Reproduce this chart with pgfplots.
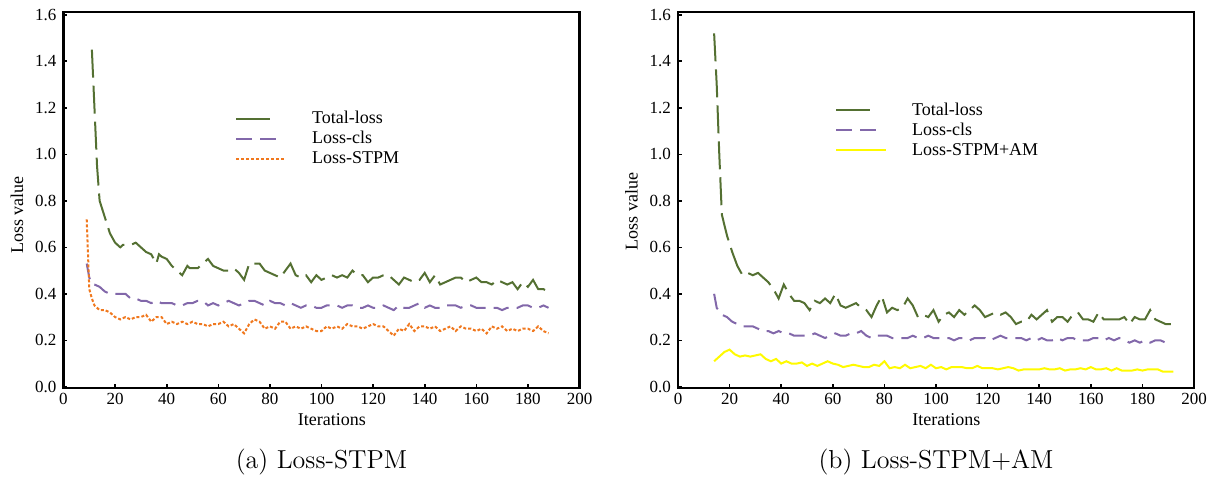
\documentclass[border=0pt]{standalone}
\usepackage{fontspec}
\usepackage{pgfplots}
\pgfplotsset{compat=1.18}
\newfontfamily\tms{Liberation Serif}
\definecolor{lossGreen}{RGB}{84,112,50}
\definecolor{lossPurple}{RGB}{130,104,170}
\definecolor{lossOrange}{RGB}{240,120,30}
\definecolor{lossYellow}{RGB}{255,250,0}

\pgfplotsset{
  lossaxis/.style={
    scale only axis, width=258pt, height=188pt,
    xmin=0, xmax=200, ymin=-0.005, ymax=1.612,
    xtick={0,20,...,200}, ytick={0,0.2,...,1.6},
    tick align=inside, xtick pos=bottom, ytick pos=left,
    major tick length=2pt,
    axis line style={line width=1.1pt},
    every tick/.style={black, line width=0.8pt},
    tick label style={font=\tms\fontsize{8.5}{10}\selectfont},
    /pgf/number format/assume math mode=true,
    yticklabel style={/pgf/number format/.cd, fixed, fixed zerofill, precision=1},
    xticklabel style={yshift=1pt},
    xlabel={Iterations}, ylabel={Loss value},
    label style={font=\tms\fontsize{9}{10}\selectfont},
    xlabel style={at={(axis description cs:0.52,-0.085)}, anchor=center},
    ylabel style={at={(axis description cs:-0.09,0.46)}, anchor=center},
    legend cell align=left,
    legend style={draw=none, fill=none, font=\tms\fontsize{9}{10}\selectfont,
      row sep=0pt, column sep=12pt,
      nodes={inner sep=0.5pt, text height=7pt, text depth=2pt}},
  },
  totalstyle/.style={lossGreen, line width=1pt, dash pattern=on 14pt off 4pt},
  clsstyle/.style={lossPurple, line width=1pt, dash pattern=on 8pt off 4pt},
  stpmstyle/.style={lossOrange, line width=1pt, dash pattern=on 1.5pt off 1pt},
  amstyle/.style={lossYellow, line width=1pt},
  limgA/.style={legend image code/.code={\draw[##1, solid] (0pt,0pt) -- (17pt,0pt);}},
  limgB/.style={legend image code/.code={\draw[##1] (0pt,0pt) -- (20.5pt,0pt);}},
  limgC/.style={legend image code/.code={\draw[##1] (0pt,0pt) -- (25pt,0pt);}},
}

\begin{document}
\begin{tikzpicture}
\useasboundingbox (-31.75pt,-44.5pt) rectangle (575.75pt,194pt);

% (a) Loss-STPM
\begin{axis}[lossaxis, name=ax1, at={(0pt,0pt)}, anchor=south west,
  legend style={at={(axis description cs:0.32,0.755)}, anchor=north west}]
\addplot[totalstyle, limgA] coordinates {
(11,1.45)(12,1.20)(13,0.95)(14,0.80)(16,0.73)(18,0.66)(20,0.62)(22,0.60)(23,0.61)(24,0.61)
(26,0.61)(28,0.62)(30,0.60)(32,0.58)(34,0.57)(36,0.53)(37,0.57)(38,0.56)(40,0.55)(42,0.52)
(44,0.50)(46,0.48)(48,0.52)(49,0.51)(50,0.51)(52,0.51)(54,0.53)(56,0.55)(58,0.52)(60,0.51)
(62,0.50)(64,0.50)(66,0.51)(68,0.49)(70,0.46)(72,0.53)(74,0.53)(76,0.53)(78,0.50)(80,0.49)
(82,0.48)(84,0.47)(86,0.50)(88,0.53)(90,0.48)(92,0.47)(94,0.48)(96,0.45)(98,0.48)(100,0.46)
(102,0.47)(104,0.48)(106,0.47)(108,0.48)(110,0.47)(112,0.50)(114,0.48)(116,0.48)(118,0.45)(120,0.47)
(122,0.47)(124,0.48)(126,0.48)(128,0.46)(130,0.44)(132,0.47)(134,0.46)(136,0.45)(138,0.46)(140,0.49)
(142,0.45)(144,0.48)(146,0.44)(148,0.45)(150,0.46)(152,0.47)(154,0.47)(156,0.45)(158,0.46)(160,0.47)
(162,0.45)(164,0.45)(166,0.44)(168,0.46)(170,0.45)(172,0.44)(174,0.45)(176,0.42)(178,0.45)(180,0.43)
(182,0.46)(184,0.42)(186,0.42)(188,0.41)
};
\addlegendentry{Total-loss}
\addplot[clsstyle, limgB] coordinates {
(9,0.53)(10,0.47)(11,0.44)(12,0.44)(14,0.43)(16,0.41)(18,0.40)(20,0.40)(22,0.40)(24,0.40)
(26,0.38)(28,0.38)(30,0.37)(32,0.37)(34,0.36)(36,0.37)(38,0.36)(40,0.36)(42,0.36)(44,0.35)
(46,0.35)(48,0.36)(50,0.36)(52,0.37)(54,0.37)(56,0.35)(58,0.36)(60,0.35)(62,0.36)(64,0.37)
(66,0.36)(68,0.35)(70,0.36)(72,0.37)(74,0.37)(76,0.36)(78,0.35)(80,0.37)(82,0.36)(84,0.36)
(86,0.35)(88,0.36)(90,0.35)(92,0.34)(94,0.35)(96,0.35)(98,0.34)(100,0.34)(102,0.35)(104,0.35)
(106,0.35)(108,0.34)(110,0.35)(112,0.35)(114,0.34)(116,0.34)(118,0.35)(120,0.34)(122,0.34)(124,0.35)
(126,0.34)(128,0.33)(130,0.35)(132,0.34)(134,0.34)(136,0.35)(138,0.36)(140,0.34)(142,0.35)(144,0.34)
(146,0.34)(148,0.35)(150,0.35)(152,0.35)(154,0.34)(156,0.35)(158,0.35)(160,0.34)(162,0.34)(164,0.34)
(166,0.34)(168,0.34)(170,0.33)(172,0.34)(174,0.34)(176,0.34)(178,0.35)(180,0.35)(182,0.34)(184,0.34)
(186,0.35)(188,0.34)
};
\addlegendentry{Loss-cls}
\addplot[stpmstyle, limgC] coordinates {
(9,0.72)(10,0.42)(11,0.38)(12,0.35)(14,0.33)(16,0.33)(18,0.32)(20,0.30)(22,0.29)(24,0.30)
(26,0.29)(28,0.30)(30,0.30)(32,0.31)(34,0.28)(36,0.30)(38,0.30)(40,0.27)(42,0.28)(44,0.27)
(46,0.28)(48,0.27)(50,0.28)(52,0.27)(54,0.27)(56,0.26)(58,0.27)(60,0.27)(62,0.28)(64,0.26)
(66,0.27)(68,0.25)(70,0.23)(72,0.27)(74,0.29)(76,0.28)(78,0.25)(80,0.26)(82,0.25)(84,0.28)
(86,0.28)(88,0.25)(90,0.26)(92,0.25)(94,0.26)(96,0.25)(98,0.24)(100,0.24)(102,0.26)(104,0.25)
(106,0.26)(108,0.25)(110,0.27)(112,0.26)(114,0.26)(116,0.25)(118,0.26)(120,0.27)(122,0.26)(124,0.26)
(126,0.24)(128,0.22)(130,0.25)(132,0.24)(134,0.27)(136,0.24)(138,0.26)(140,0.26)(142,0.25)(144,0.26)
(146,0.24)(148,0.25)(150,0.26)(152,0.24)(154,0.26)(156,0.25)(158,0.25)(160,0.24)(162,0.25)(164,0.23)
(166,0.26)(168,0.25)(170,0.26)(172,0.24)(174,0.25)(176,0.24)(178,0.25)(180,0.25)(182,0.24)(184,0.26)
(186,0.24)(188,0.23)
};
\addlegendentry{Loss-STPM}
\end{axis}

% (b) Loss-STPM+AM
\begin{axis}[lossaxis, name=ax2, at={(307.25pt,0pt)}, anchor=south west,
  ylabel style={at={(axis description cs:-0.09,0.47)}},
  legend style={at={(axis description cs:0.292,0.777)}, anchor=north west}]
\addplot[totalstyle, limgA] coordinates {
(14,1.52)(15,1.30)(16,1.00)(17,0.74)(19,0.65)(21,0.58)(23,0.52)(25,0.48)(27,0.49)(29,0.48)
(31,0.49)(33,0.47)(35,0.45)(37,0.42)(39,0.38)(41,0.44)(43,0.40)(45,0.37)(47,0.37)(49,0.36)
(51,0.33)(53,0.37)(55,0.36)(57,0.38)(59,0.36)(61,0.40)(63,0.35)(65,0.34)(67,0.35)(69,0.36)
(71,0.34)(73,0.33)(75,0.30)(77,0.35)(79,0.39)(81,0.32)(83,0.34)(85,0.33)(87,0.34)(89,0.38)
(91,0.35)(93,0.30)(95,0.31)(97,0.30)(99,0.33)(101,0.28)(103,0.31)(105,0.32)(107,0.30)(109,0.33)
(111,0.31)(113,0.33)(115,0.35)(117,0.33)(119,0.30)(121,0.31)(123,0.32)(125,0.31)(127,0.32)(129,0.30)
(131,0.27)(133,0.28)(135,0.28)(137,0.31)(139,0.29)(141,0.31)(143,0.33)(145,0.28)(147,0.30)(149,0.30)
(151,0.28)(153,0.31)(155,0.32)(157,0.29)(159,0.29)(161,0.28)(163,0.32)(165,0.29)(167,0.29)(169,0.29)
(171,0.29)(173,0.30)(175,0.27)(177,0.30)(179,0.29)(181,0.29)(183,0.33)(185,0.29)(187,0.28)(189,0.27)
(191,0.27)
};
\addlegendentry{Total-loss}
\addplot[clsstyle, limgB] coordinates {
(14,0.40)(15,0.34)(17,0.31)(19,0.30)(21,0.28)(23,0.27)(25,0.26)(27,0.26)(29,0.26)(31,0.25)
(33,0.24)(35,0.24)(37,0.23)(39,0.24)(41,0.23)(43,0.23)(45,0.22)(47,0.22)(49,0.22)(51,0.22)
(53,0.23)(55,0.22)(57,0.21)(59,0.22)(61,0.23)(63,0.22)(65,0.22)(67,0.23)(69,0.23)(71,0.24)
(73,0.22)(75,0.21)(77,0.22)(79,0.22)(81,0.22)(83,0.21)(85,0.21)(87,0.21)(89,0.21)(91,0.22)
(93,0.21)(95,0.21)(97,0.22)(99,0.21)(101,0.21)(103,0.21)(105,0.21)(107,0.20)(109,0.21)(111,0.21)
(113,0.20)(115,0.21)(117,0.21)(119,0.21)(121,0.20)(123,0.21)(125,0.22)(127,0.21)(129,0.21)(131,0.21)
(133,0.21)(135,0.20)(137,0.21)(139,0.20)(141,0.21)(143,0.20)(145,0.20)(147,0.21)(149,0.20)(151,0.21)
(153,0.21)(155,0.20)(157,0.20)(159,0.20)(161,0.21)(163,0.21)(165,0.20)(167,0.21)(169,0.20)(171,0.21)
(173,0.20)(175,0.19)(177,0.20)(179,0.19)(181,0.20)(183,0.19)(185,0.20)(187,0.20)(189,0.19)(191,0.19)
};
\addlegendentry{Loss-cls}
\addplot[amstyle, limgC] coordinates {
(14,0.110)(16,0.130)(18,0.150)(20,0.160)(22,0.140)(24,0.130)(26,0.135)(28,0.130)(30,0.135)(32,0.140)
(34,0.120)(36,0.110)(38,0.120)(40,0.100)(42,0.110)(44,0.100)(46,0.100)(48,0.105)(50,0.090)(52,0.100)
(54,0.090)(56,0.100)(58,0.110)(60,0.100)(62,0.095)(64,0.085)(66,0.090)(68,0.095)(70,0.090)(72,0.085)
(74,0.085)(76,0.095)(78,0.090)(80,0.110)(82,0.080)(84,0.085)(86,0.080)(88,0.095)(90,0.080)(92,0.085)
(94,0.090)(96,0.080)(98,0.095)(100,0.080)(102,0.085)(104,0.075)(106,0.085)(108,0.085)(110,0.085)(112,0.080)
(114,0.080)(116,0.090)(118,0.080)(120,0.080)(122,0.080)(124,0.075)(126,0.080)(128,0.085)(130,0.080)(132,0.070)
(134,0.075)(136,0.075)(138,0.075)(140,0.075)(142,0.080)(144,0.075)(146,0.075)(148,0.080)(150,0.070)(152,0.075)
(154,0.075)(156,0.080)(158,0.075)(160,0.085)(162,0.075)(164,0.075)(166,0.080)(168,0.070)(170,0.080)(172,0.070)
(174,0.070)(176,0.070)(178,0.075)(180,0.070)(182,0.075)(184,0.075)(186,0.075)(188,0.065)(190,0.065)(192,0.065)
};
\addlegendentry{Loss-STPM+AM}
\end{axis}

\node[font=\fontsize{13}{15}\selectfont] at ([yshift=-37pt]ax1.south) {(a) Loss-STPM};
\node[font=\fontsize{13}{15}\selectfont] at ([yshift=-37pt]ax2.south) {(b) Loss-STPM+AM};
\end{tikzpicture}
\end{document}
